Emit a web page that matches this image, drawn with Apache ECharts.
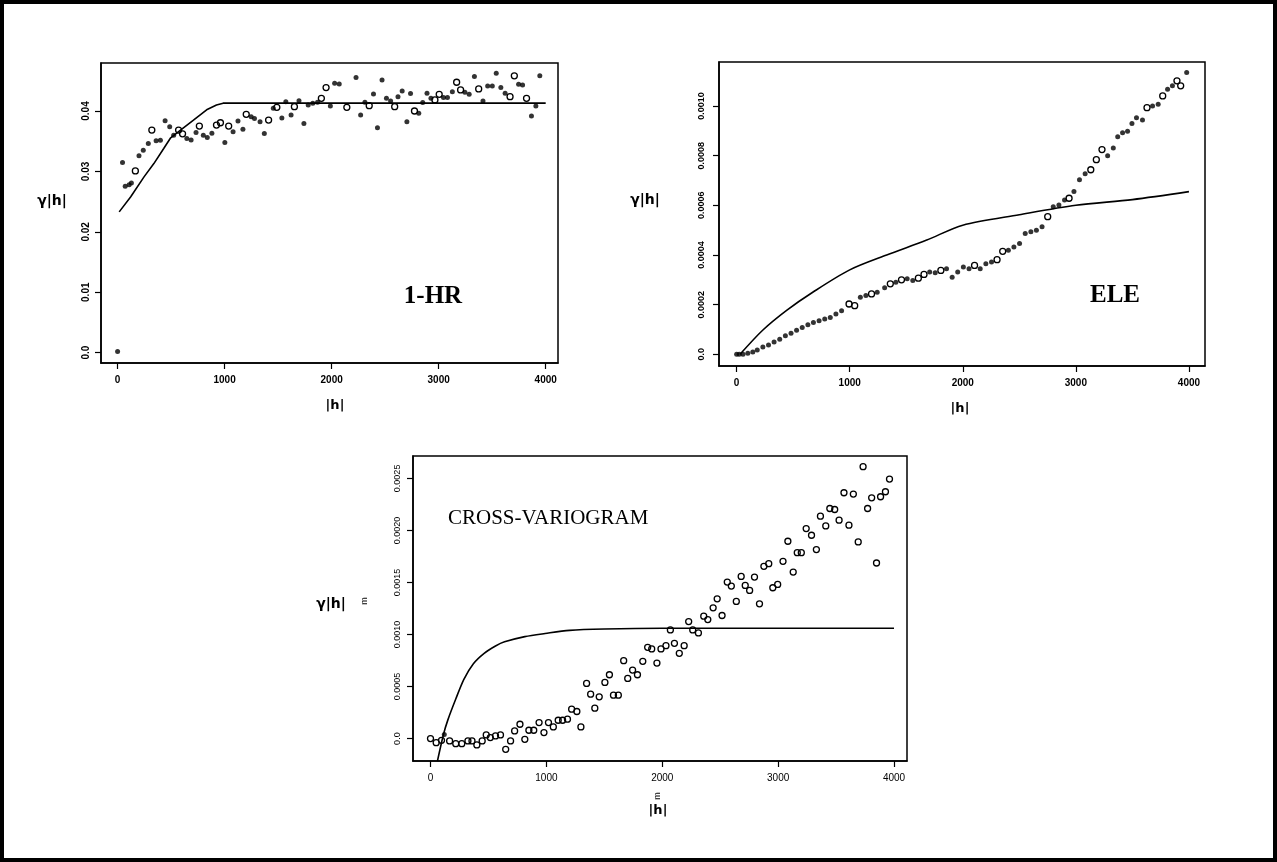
<!DOCTYPE html>
<html><head><meta charset="utf-8">
<script src="https://cdn.jsdelivr.net/npm/echarts@6/dist/echarts.min.js"></script>
<style>html,body{margin:0;padding:0;background:#fff}#c{width:1277px;height:862px}</style>
</head><body><div id="c"></div>
<script>
// ---------- tick values / labels ----------
const xTicks = [0, 1000, 2000, 3000, 4000];
const hrYTicks = [0, 0.01, 0.02, 0.03, 0.04];
const hrYLabels = ['0.0', '0.01', '0.02', '0.03', '0.04'];
const eleYTicks = [0, 0.0002, 0.0004, 0.0006, 0.0008, 0.0010];
const eleYLabels = ['0.0', '0.0002', '0.0004', '0.0006', '0.0008', '0.0010'];
const crossYTicks = [0, 0.0005, 0.0010, 0.0015, 0.0020, 0.0025];
const crossYLabels = ['0.0', '0.0005', '0.0010', '0.0015', '0.0020', '0.0025'];

// ---------- 1-HR panel ----------
const hrDots = [[0,0.0002],[46,0.03147],[71,0.02753],[108,0.0278],[129,0.0281],[200,0.03258],[240,0.03352],[287,0.03463],
[360,0.03507],[400,0.03518],[444,0.03839],[487,0.0374],[524,0.0360],[647,0.03546],[687,0.0352],[733,0.03645],[801,0.036],
[838,0.0356],[881,0.0363],[1002,0.03479],[1079,0.03657],[1125,0.03834],[1171,0.037],[1248,0.03906],[1279,0.03878],
[1331,0.03823],[1371,0.03629],[1455,0.04044],[1535,0.03884],[1572,0.04155],[1621,0.03934],[1695,0.04172],[1741,0.03795],
[1781,0.041],[1824,0.04127],[1868,0.04144],[1988,0.04083],[2028,0.0446],[2071,0.04449],[2228,0.04554],[2271,0.03934],
[2311,0.04144],[2391,0.04283],[2428,0.03723],[2471,0.04515],[2512,0.0421],[2551,0.04166],[2620,0.04238],[2659,0.04332],
[2703,0.03823],[2737,0.04288],[2814,0.03961],[2851,0.04139],[2891,0.04294],[2928,0.0421],[3045,0.04222],[3082,0.04222],
[3128,0.04321],[3245,0.0431],[3285,0.04277],[3334,0.04571],[3414,0.04166],[3458,0.04416],[3501,0.04416],[3538,0.04626],
[3581,0.04388],[3621,0.04294],[3747,0.04443],[3784,0.04432],[3867,0.03917],[3908,0.04083],[3945,0.04582]];
const hrCircles = [[166,0.03008],[320,0.03684],[570,0.03684],[607,0.03623],[764,0.0375],[924,0.03767],[961,0.03806],
[1038,0.0375],[1202,0.03945],[1411,0.0385],[1488,0.04061],[1652,0.04072],[1904,0.0421],[1948,0.04388],[2142,0.04061],
[2351,0.04089],[2589,0.04072],[2774,0.04],[2965,0.04183],[3005,0.04277],[3168,0.04476],[3205,0.04349],[3374,0.04366],
[3667,0.04238],[3707,0.04582],[3821,0.0421]];
const hrModel = [[15,0.0233],[123,0.0258],[247,0.0291],[339,0.0313],[431,0.0338],[493,0.0355],[585,0.0368],[709,0.0385],
[832,0.0402],[924,0.041],[986,0.0413],[4000,0.0413]];

// ---------- ELE panel ----------
const eleDots = [[0,0],[23,0],[56,0],[99,0.000004],[143,0.0000095],[182,0.0000176],[232,0.0000297],[282,0.0000378],
[331,0.00005],[381,0.0000608],[431,0.0000743],[481,0.0000851],[530,0.0000973],[580,0.0001081],[630,0.0001189],
[679,0.0001284],[729,0.0001351],[779,0.0001419],[828,0.0001486],[878,0.0001622],[928,0.0001757],[1094,0.0002297],
[1143,0.0002365],[1243,0.00025],[1309,0.0002676],[1408,0.0002905],[1508,0.0003041],[1558,0.0002973],[1707,0.0003311],
[1756,0.0003284],[1856,0.0003446],[1906,0.0003108],[1955,0.0003311],[2005,0.0003514],[2055,0.0003446],[2154,0.0003446],
[2204,0.0003649],[2254,0.0003716],[2403,0.0004189],[2452,0.0004324],[2502,0.000446],[2552,0.0004865],[2602,0.0004932],
[2651,0.0005],[2701,0.0005135],[2800,0.0005946],[2850,0.0006014],[2900,0.0006216],[2983,0.0006554],[3032,0.0007027],
[3082,0.000727],[3281,0.0008],[3331,0.0008311],[3370,0.0008757],[3413,0.0008919],[3457,0.0008986],[3496,0.0009297],
[3536,0.0009527],[3589,0.0009432],[3678,0.001],[3728,0.0010068],[3811,0.0010676],[3854,0.0010811],[3980,0.0011351]];
const eleCircles = [[994,0.0002027],[1044,0.000196],[1193,0.0002432],[1359,0.0002838],[1458,0.0003],[1607,0.0003068],
[1657,0.0003216],[1806,0.0003378],[2104,0.0003581],[2303,0.0003811],[2353,0.0004149],[2751,0.0005541],[2940,0.0006284],
[3132,0.0007432],[3181,0.0007838],[3231,0.0008243],[3629,0.0009932],[3768,0.0010405],[3894,0.0011014],[3927,0.0010811]];
const eleModel = [[30,0],[230,0.000097],[442,0.000177],[673,0.00025],[1000,0.00034],[1327,0.0004],[1681,0.00046],
[2000,0.00052],[2500,0.000562],[3000,0.0006],[3500,0.000623],[4000,0.000655]];

// ---------- CROSS-VARIOGRAM panel ----------
const crossCircles = [[0,0],[49,-0.0000386],[95,-0.000016],[165,-0.0000225],[218,-0.0000482],[270,-0.0000482],
[323,-0.0000225],[358,-0.0000225],[400,-0.000061],[446,-0.0000225],[481,0.0000353],[516,0.0000096],[561,0.0000257],
[604,0.0000353],[649,-0.0001028],[691,-0.0000225],[726,0.0000739],[772,0.000138],[814,-0.0000064],[849,0.0000803],
[891,0.0000803],[937,0.0001542],[979,0.0000578],[1018,0.0001542],[1060,0.0001125],[1102,0.0001767],[1140,0.0001767],
[1182,0.0001864],[1218,0.0002828],[1263,0.0002603],[1298,0.0001125],[1347,0.0005302],[1382,0.0004274],[1418,0.0002924],
[1456,0.0004017],[1505,0.0005398],[1544,0.0006138],[1579,0.0004177],[1621,0.0004177],[1667,0.0007487],[1702,0.0005784],
[1744,0.0006587],[1786,0.0006138],[1832,0.0007423],[1874,0.0008773],[1909,0.0008612],[1954,0.0007262],[1989,0.0008612],
[2032,0.0008933],[2070,0.0010444],[2105,0.0009158],[2147,0.0008194],[2189,0.0008933],[2228,0.0011247],[2263,0.0010444],
[2312,0.0010154],[2358,0.0011761],[2393,0.001144],[2439,0.0012564],[2474,0.0013432],[2516,0.0011826],[2561,0.0015039],
[2596,0.0014653],[2639,0.0013175],[2681,0.0015585],[2716,0.0014717],[2754,0.0014235],[2796,0.0015521],[2839,0.001295],
[2877,0.0016549],[2919,0.0016806],[2954,0.0014493],[2996,0.0014814],[3042,0.0017031],[3084,0.001896],[3130,0.0016003],
[3165,0.0017867],[3200,0.0017867],[3242,0.002018],[3288,0.0019537],[3330,0.0018156],[3365,0.0021369],[3411,0.0020437],
[3446,0.0022108],[3488,0.0022012],[3526,0.0020983],[3568,0.0023618],[3611,0.0020501],[3649,0.002349],[3691,0.0018895],
[3733,0.0026125],[3772,0.0022108],[3807,0.0023136],[3849,0.001687],[3884,0.0023233],[3926,0.0023715],[3961,0.0024936]];
const crossDots = [[119,0.00004]];
const crossModel = [[60,-0.000215],[112,0.00004],[150,0.00018],[218,0.00038],[288,0.00057],[370,0.00072],[463,0.00082],
[561,0.00089],[639,0.00093],[814,0.00098],[989,0.00101],[1200,0.00104],[1500,0.001053],[2000,0.00106],[4000,0.00106]];

// ---------- chart ----------
const chart = echarts.init(document.getElementById('c'), null, {renderer: 'canvas'});
const BLACK = '#000';
function xAxis(gi, min, max, bold) {
  return {
    type: 'value', gridIndex: gi, min: min, max: max,
    splitLine: {show: false},
    axisLine: {show: true, onZero: false, lineStyle: {color: BLACK, width: 1.5}},
    axisTick: {show: true, length: 6, customValues: xTicks, lineStyle: {color: BLACK, width: 1.2}},
    axisLabel: {show: true, customValues: xTicks, margin: 12, color: BLACK, fontSize: 10,
      fontWeight: bold ? 'bold' : 'normal', fontFamily: 'Liberation Sans', formatter: v => String(v)}
  };
}
function yAxis(gi, min, max, ticks, labels, margin, bold, size) {
  return {
    type: 'value', gridIndex: gi, min: min, max: max,
    splitLine: {show: false},
    axisLine: {show: true, onZero: false, lineStyle: {color: BLACK, width: 1.5}},
    axisTick: {show: true, length: 6, customValues: ticks, lineStyle: {color: BLACK, width: 1.2}},
    axisLabel: {show: true, customValues: ticks, rotate: 90, margin: margin, color: BLACK, fontSize: size,
      fontWeight: bold ? 'bold' : 'normal', fontFamily: 'Liberation Sans',
      formatter: v => { const i = ticks.findIndex(t => Math.abs(t - v) < 1e-9); return i >= 0 ? labels[i] : ''; }}
  };
}
function dots(xi, data, size) {
  return {type: 'scatter', xAxisIndex: xi, yAxisIndex: xi, data: data, symbol: 'circle', symbolSize: size,
    itemStyle: {color: BLACK}, silent: true, z: 3};
}
function circles(xi, data, size) {
  return {type: 'scatter', xAxisIndex: xi, yAxisIndex: xi, data: data, symbol: 'circle', symbolSize: size,
    itemStyle: {color: 'rgba(255,255,255,0)', borderColor: BLACK, borderWidth: 1.3, opacity: 1}, silent: true, z: 3};
}
function model(xi, data, smooth) {
  return {type: 'line', xAxisIndex: xi, yAxisIndex: xi, data: data, showSymbol: false, smooth: smooth,
    lineStyle: {color: BLACK, width: 1.6}, silent: true, z: 2, clip: true};
}
const gridBase = {show: true, borderColor: BLACK, borderWidth: 1.5, backgroundColor: 'transparent', containLabel: false};

chart.setOption({
  animation: false,
  backgroundColor: '#fff',
  grid: [
    Object.assign({left: 101, top: 63, width: 457, height: 300}, gridBase),
    Object.assign({left: 719, top: 62, width: 486, height: 304}, gridBase),
    Object.assign({left: 413, top: 456, width: 494, height: 305}, gridBase)
  ],
  xAxis: [xAxis(0, -155, 4115, true), xAxis(1, -156, 4142, true), xAxis(2, -151, 4112, false)],
  yAxis: [
    yAxis(0, -0.00172, 0.04795, hrYTicks, hrYLabels, 10, true, 10),
    yAxis(1, -0.000047, 0.001177, eleYTicks, eleYLabels, 13, true, 9),
    yAxis(2, -0.000215, 0.002715, crossYTicks, crossYLabels, 11, false, 9)
  ],
  series: [
    model(0, hrModel, false), dots(0, hrDots, 5), circles(0, hrCircles, 6),
    model(1, eleModel, 0.3), dots(1, eleDots, 5), circles(1, eleCircles, 6),
    model(2, crossModel, 0.3), circles(2, crossCircles, 6), dots(2, crossDots, 5)
  ],
  graphic: [
    {type: 'rect', shape: {x: 2, y: 2, width: 1273, height: 858}, style: {fill: 'none', stroke: BLACK, lineWidth: 4}, silent: true},
    {type: 'text', x: 433, y: 297, style: {text: '1-HR', font: 'bold 25px "Liberation Serif"', fill: BLACK, align: 'center', verticalAlign: 'middle'}},
    {type: 'text', x: 1115, y: 296, style: {text: 'ELE', font: 'bold 25px "Liberation Serif"', fill: BLACK, align: 'center', verticalAlign: 'middle'}},
    {type: 'text', x: 448, y: 518, style: {text: 'CROSS-VARIOGRAM', font: '21px "Liberation Serif"', fill: BLACK, align: 'left', verticalAlign: 'middle'}},
    {type: 'text', x: 52, y: 201, style: {text: 'γ|h|', font: 'bold 14px "DejaVu Sans"', fill: BLACK, align: 'center', verticalAlign: 'middle'}},
    {type: 'text', x: 645, y: 200, style: {text: 'γ|h|', font: 'bold 14px "DejaVu Sans"', fill: BLACK, align: 'center', verticalAlign: 'middle'}},
    {type: 'text', x: 331, y: 604, style: {text: 'γ|h|', font: 'bold 14px "DejaVu Sans"', fill: BLACK, align: 'center', verticalAlign: 'middle'}},
    {type: 'text', x: 365, y: 601, rotation: Math.PI / 2, style: {text: 'm', font: '9px "Liberation Sans"', fill: BLACK, align: 'center', verticalAlign: 'middle'}},
    {type: 'text', x: 335, y: 406, style: {text: '|h|', font: 'bold 13px "DejaVu Sans"', fill: BLACK, align: 'center', verticalAlign: 'middle'}},
    {type: 'text', x: 960, y: 409, style: {text: '|h|', font: 'bold 13px "DejaVu Sans"', fill: BLACK, align: 'center', verticalAlign: 'middle'}},
    {type: 'text', x: 658, y: 796, rotation: Math.PI / 2, style: {text: 'm', font: '9px "Liberation Sans"', fill: BLACK, align: 'center', verticalAlign: 'middle'}},
    {type: 'text', x: 658, y: 811, style: {text: '|h|', font: 'bold 13px "DejaVu Sans"', fill: BLACK, align: 'center', verticalAlign: 'middle'}}
  ]
});
</script></body></html>
